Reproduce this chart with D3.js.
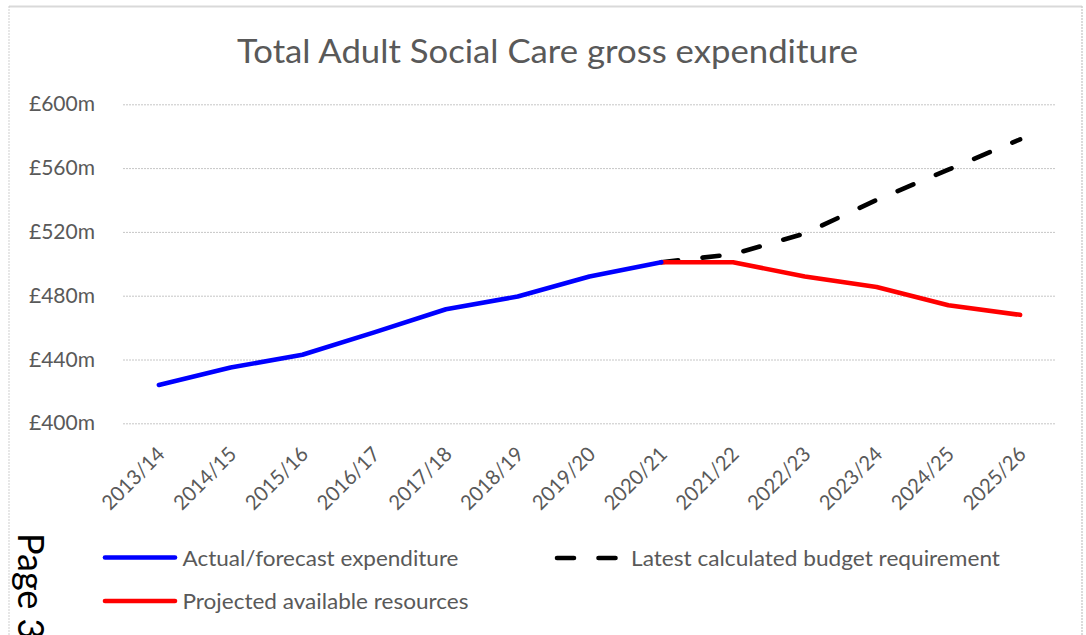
<!DOCTYPE html>
<html>
<head>
<meta charset="utf-8">
<script src="https://cdn.jsdelivr.net/npm/d3@7"></script>
<style>
  html, body { margin: 0; padding: 0; background: #fff; }
  svg { display: block; }
  text { font-family: Lato, "Open Sans", sans-serif; }
</style>
</head>
<body>
<script>
// Financial years on the x axis
const years = ["2013/14","2014/15","2015/16","2016/17","2017/18","2018/19","2019/20",
               "2020/21","2021/22","2022/23","2023/24","2024/25","2025/26"];

// Gross expenditure, £m (null where a series has no value)
const actualForecast = [424, 435, 443, 457, 471.5, 479.5, 492, 501, null, null, null, null, null];
const budgetRequirement = [null, null, null, null, null, null, null, 501, 506, 519, 540, 559, 578];
const availableResources = [null, null, null, null, null, null, null, 501, 501, 492, 485.5, 474, 468];

// Y axis ticks
const yTicks = [400, 440, 480, 520, 560, 600];

const seriesNames = {
  actual: "Actual/forecast expenditure",
  budget: "Latest calculated budget requirement",
  resources: "Projected available resources"
};

const W = 1086, H = 635;
const plot = { left: 123, right: 1056, top: 104.3, bottom: 423.3 };
const textGrey = "#595959";

const svg = d3.select("body").append("svg")
  .attr("width", W).attr("height", H);

// chart frame
svg.append("line").attr("x1", 9).attr("x2", 1082).attr("y1", 6.5).attr("y2", 6.5)
  .attr("stroke", "#d9d9d9").attr("stroke-width", 2);
svg.append("line").attr("x1", 9).attr("x2", 9).attr("y1", 6).attr("y2", H)
  .attr("stroke", "#cfcfcf").attr("stroke-width", 1).attr("stroke-dasharray", "2,1");
svg.append("line").attr("x1", 1082).attr("x2", 1082).attr("y1", 6).attr("y2", H)
  .attr("stroke", "#cfcfcf").attr("stroke-width", 1.5).attr("stroke-dasharray", "2,1");

// title
svg.append("text")
  .attr("x", 547.5).attr("y", 63.3)
  .attr("text-anchor", "middle")
  .attr("font-size", 32)
  .attr("fill", textGrey)
  .attr("textLength", 621).attr("lengthAdjust", "spacingAndGlyphs")
  .text("Total Adult Social Care gross expenditure");

const x = d3.scalePoint().domain(years).range([plot.left, plot.right]).padding(0.5);
const y = d3.scaleLinear().domain([400, 600]).range([plot.bottom, plot.top]);

// y axis with gridlines
const yAxis = svg.append("g")
  .attr("transform", `translate(${plot.left},0)`)
  .call(d3.axisLeft(y).tickValues(yTicks).tickSize(-(plot.right - plot.left))
    .tickPadding(28).tickFormat(d => `£${d}m`));
yAxis.select(".domain").remove();
yAxis.selectAll(".tick line")
  .attr("stroke", "#c6c6c6").attr("stroke-width", 1).attr("stroke-dasharray", "2,1");
yAxis.selectAll(".tick text")
  .attr("font-size", 20.5).attr("fill", textGrey)
  .attr("font-family", "Lato, sans-serif")
  .attr("textLength", 66).attr("lengthAdjust", "spacingAndGlyphs");

// x axis labels, rotated
const xAxis = svg.append("g")
  .attr("transform", `translate(0,${plot.bottom})`)
  .call(d3.axisBottom(x).tickSize(0).tickPadding(0));
xAxis.select(".domain").remove();
xAxis.selectAll(".tick text")
  .attr("font-size", 20.5).attr("fill", textGrey)
  .attr("font-family", "Lato, sans-serif")
  .attr("text-anchor", "end")
  .attr("dy", null)
  .attr("dominant-baseline", "central")
  .attr("textLength", 79).attr("lengthAdjust", "spacingAndGlyphs")
  .attr("transform", "translate(1,26.5) rotate(-45)")
  .attr("y", 0).attr("x", 0);

function pts(vals) {
  return years.map((yr, i) => ({ yr, v: vals[i] }));
}
const line = d3.line()
  .defined(d => d.v != null)
  .x(d => x(d.yr))
  .y(d => y(d.v));

const lw = 4.6;
// budget requirement (dashed, drawn beneath)
svg.append("path").datum(pts(budgetRequirement))
  .attr("d", line).attr("fill", "none")
  .attr("stroke", "#000").attr("stroke-width", lw)
  .attr("stroke-linecap", "round").attr("stroke-linejoin", "round")
  .attr("stroke-dasharray", "17,24.5");
// projected resources
svg.append("path").datum(pts(availableResources))
  .attr("d", line).attr("fill", "none")
  .attr("stroke", "#ff0000").attr("stroke-width", lw)
  .attr("stroke-linecap", "round").attr("stroke-linejoin", "round");
// actual / forecast expenditure
svg.append("path").datum(pts(actualForecast))
  .attr("d", line).attr("fill", "none")
  .attr("stroke", "#0000ff").attr("stroke-width", lw)
  .attr("stroke-linecap", "round").attr("stroke-linejoin", "round");

// legend
const legend = [
  { key: "actual", color: "#0000ff", dash: null, x: 105, y: 557.5, tx: 182.5, tw: 276 },
  { key: "budget", color: "#000", dash: "17,24.5", x: 557, y: 558, tx: 631, tw: 369 },
  { key: "resources", color: "#ff0000", dash: null, x: 105, y: 601, tx: 182.5, tw: 286 }
];
const lg = svg.append("g").selectAll("g").data(legend).join("g");
lg.append("line")
  .attr("x1", d => d.x).attr("x2", d => d.x + (d.dash ? 61 : 70))
  .attr("y1", d => d.y).attr("y2", d => d.y)
  .attr("stroke", d => d.color).attr("stroke-width", lw)
  .attr("stroke-linecap", "round")
  .attr("stroke-dasharray", d => d.dash);
lg.append("text")
  .attr("x", d => d.tx).attr("y", d => d.y)
  .attr("dominant-baseline", "central")
  .attr("font-size", 20.5).attr("fill", textGrey)
  .attr("textLength", d => d.tw).attr("lengthAdjust", "spacingAndGlyphs")
  .text(d => seriesNames[d.key]);

// page number, rotated along the left margin
svg.append("text")
  .attr("transform", "translate(18,533) rotate(90)")
  .attr("font-family", "'Liberation Sans', Arial, sans-serif")
  .attr("font-size", 36).attr("fill", "#000")
  .text("Page 3");
</script>
</body>
</html>
